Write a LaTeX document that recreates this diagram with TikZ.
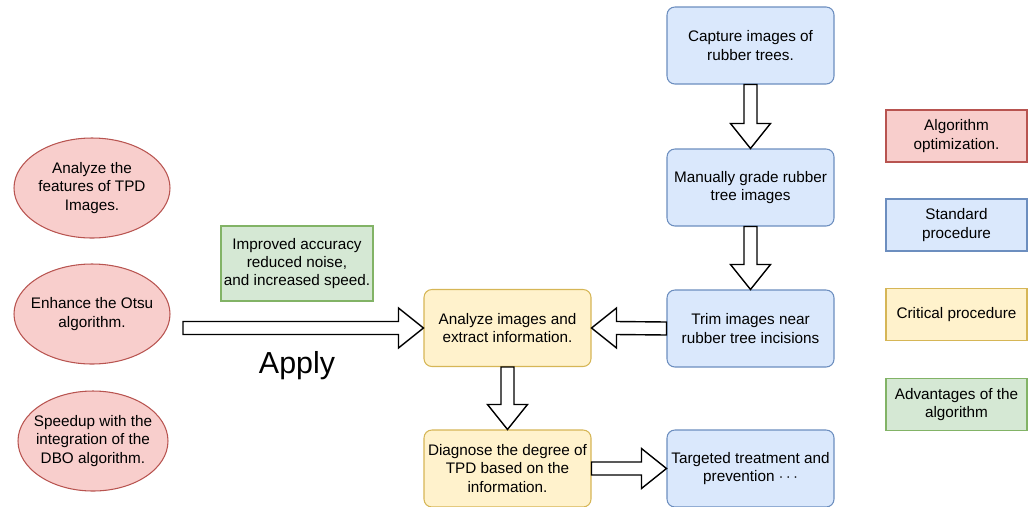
\documentclass[tikz,border=0pt]{standalone}
\usepackage{fontspec}
\setmainfont{Liberation Sans}
\usetikzlibrary{shapes.geometric,calc}

\definecolor{redfill}{HTML}{F8CECC}
\definecolor{redline}{HTML}{B85450}
\definecolor{bluefill}{HTML}{DAE8FC}
\definecolor{blueline}{HTML}{6C8EBF}
\definecolor{yellowfill}{HTML}{FFF2CC}
\definecolor{yellowline}{HTML}{D6B656}
\definecolor{greenfill}{HTML}{D5E8D4}
\definecolor{greenline}{HTML}{82B366}

\tikzset{
  every node/.style={font=\fontsize{8.7}{10.5}\selectfont},
  box/.style={draw, rounded corners=4.5pt, minimum width=3.34cm, minimum height=1.54cm,
    align=center, line width=0.6pt, inner sep=1pt},
  stdbox/.style={box, fill=bluefill, draw=blueline},
  keybox/.style={box, fill=yellowfill, draw=yellowline},
  optell/.style={ellipse, draw=redline, fill=redfill, line width=0.6pt, minimum width=3.12cm,
    minimum height=2cm, align=center, inner xsep=-0.35cm, inner ysep=0pt},
  legend/.style={draw, minimum width=2.82cm, minimum height=1.04cm, align=center,
    line width=0.6pt, inner sep=1pt},
  fatarr/.style={draw=black, fill=white, line width=0.8pt}
}

% hollow block arrow: tail, tip, direction angle
\newcommand{\fatarrow}[3]{%
  \draw[fatarr] ($(#1)+(#3+90:0.13cm)$) -- ($(#2)+(#3+180:0.5cm)+(#3+90:0.13cm)$)
    -- ($(#2)+(#3+180:0.5cm)+(#3+90:0.4cm)$) -- (#2)
    -- ($(#2)+(#3+180:0.5cm)+(#3-90:0.4cm)$) -- ($(#2)+(#3+180:0.5cm)+(#3-90:0.13cm)$)
    -- ($(#1)+(#3-90:0.13cm)$) -- cycle;}

\begin{document}
\begin{tikzpicture}
\useasboundingbox (0,0) rectangle (20.64,-10.12);

% optimisation steps
\node[optell] (feat) at (1.84,-3.76) {Analyze the\\features of TPD\\Images.};
\node[optell] (otsu) at (1.84,-6.28) {Enhance the Otsu\\algorithm.};
\node[optell, minimum width=3.0cm] (dbo) at (1.86,-8.82) {Speedup with the\\integration of the\\DBO algorithm.};
\node[legend, fill=greenfill, draw=greenline, minimum width=3.04cm, minimum height=1.5cm] (gain) at (5.94,-5.27)
  {Improved accuracy\\reduced noise,\\and increased speed.};

% procedure
\node[stdbox] (capture) at (15.01,-0.91) {Capture images of\\rubber trees.};
\node[stdbox] (grade) at (15.01,-3.75) {Manually grade rubber\\tree images};
\node[stdbox] (trim) at (15.01,-6.57) {Trim images near\\rubber tree incisions};
\node[keybox] (analyze) at (10.15,-6.56) {Analyze images and\\extract information.};
\node[keybox] (diag) at (10.15,-9.37) {Diagnose the degree of\\TPD based on the\\information.};
\node[stdbox] (treat) at (15.01,-9.37) {Targeted treatment and\\prevention $\cdots$};

% legend
\node[legend, fill=redfill, draw=redline] (legopt) at (19.13,-2.72) {Algorithm\\optimization.};
\node[legend, fill=bluefill, draw=blueline] (legstd) at (19.13,-4.50) {Standard\\procedure};
\node[legend, fill=yellowfill, draw=yellowline] (legkey) at (19.13,-6.29) {Critical procedure};
\node[legend, fill=greenfill, draw=greenline] (legadv) at (19.13,-8.09) {Advantages of the\\algorithm};

% arrows
\coordinate (applytail) at (3.66,-6.56);
\fatarrow{applytail}{analyze.west}{0}
\node[font=\fontsize{17.3}{20}\selectfont] (apply) at (5.94,-7.32) {Apply};
\fatarrow{capture.south}{grade.north}{-90}
\fatarrow{grade.south}{trim.north}{-90}
\fatarrow{trim.west}{analyze.east}{180}
\fatarrow{analyze.south}{diag.north}{-90}
\fatarrow{diag.east}{treat.west}{0}
\end{tikzpicture}
\end{document}
